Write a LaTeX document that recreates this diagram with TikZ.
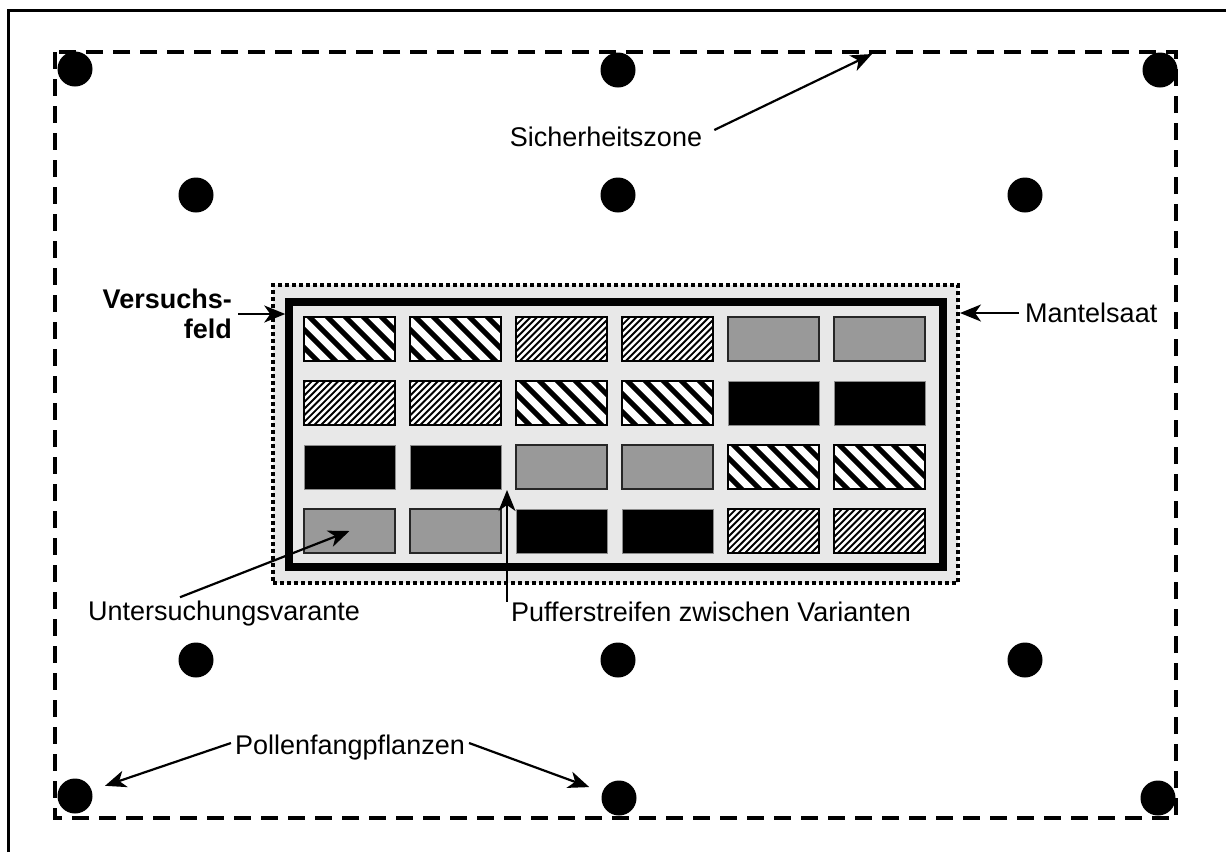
\documentclass[tikz,border=0pt]{standalone}
\usepackage{fontspec}
\setmainfont{Liberation Sans}
\usetikzlibrary{positioning,arrows.meta}
\definecolor{mantelgray}{RGB}{232,232,232}
\definecolor{cellgray}{RGB}{153,153,153}

\begin{document}
\begin{tikzpicture}[x=1pt, y=-1pt,
    frame/.style={line width=3pt},
    zone/.style={line width=4pt, dash pattern=on 17pt off 10pt},
    mantel/.style={draw, fill=mantelgray, line width=4pt, dash pattern=on 4pt off 3pt,
                   minimum width=685pt, minimum height=298pt, inner sep=0pt},
    feld/.style={draw, fill=mantelgray, line width=7.5pt,
                 minimum width=654pt, minimum height=265pt, inner sep=0pt},
    cell/.style={draw=black, line width=1.8pt, minimum width=91pt, minimum height=44pt, inner sep=0pt},
    wide/.style={cell, fill=white, path picture={
        \foreach \k in {-5,...,5}
          \draw[line width=5pt] ([xshift=\k*18pt]path picture bounding box.center)
            ++(-30,-30) -- ++(60,60);}},
    fine/.style={cell, fill=white, path picture={
        \foreach \k in {-11,...,11}
          \draw[line width=1.9pt] ([xshift=\k*6.6pt]path picture bounding box.center)
            ++(-30,30) -- ++(60,-60);}},
    grey/.style={cell, fill=cellgray, draw=black!85},
    dark/.style={cell, fill=black, draw=black!45, line width=1pt},
    plant/.style={circle, fill=black, minimum size=35pt, inner sep=0pt},
    arr/.style={-{Stealth[length=21pt,width=17pt,inset=6pt]}, line width=2.2pt},
    lbl/.style={font=\fontsize{27}{31}\selectfont, inner sep=2pt}
  ]
  \useasboundingbox (0,0) rectangle (1226,852);

  % ================= FRAME AND SAFETY ZONE =================
  \draw[frame] (8,852) -- (8,10) -- (1226,10);
  \draw[zone]  (55,52) rectangle (1176,818);
  \coordinate (zonetip) at (872,54);

  % ================= POLLEN TRAP PLANTS =================
  \node[plant] (p11) at (75,69)   {};
  \node[plant] (p12) at (618,70)  {};
  \node[plant] (p13) at (1160,70) {};
  \node[plant] (p21) at (196,195)  {};
  \node[plant] (p22) at (618,195)  {};
  \node[plant] (p23) at (1025,195) {};
  \node[plant] (p31) at (196,660)  {};
  \node[plant] (p32) at (618,660)  {};
  \node[plant] (p33) at (1025,660) {};
  \node[plant] (p41) at (75,796)   {};
  \node[plant] (p42) at (619,798)  {};
  \node[plant] (p43) at (1158,798) {};

  % ================= MANTEL AND TEST FIELD =================
  \node[mantel] (mantel) at (615.5,434) {};
  \node[feld]   (feld)   at (616,434.5) {};

  % plots, row by row
  \node[wide] (c11) at (349.5,339) {};
  \node[wide] (c12) at (455.5,339) {};
  \node[fine] (c13) at (561.5,339) {};
  \node[fine] (c14) at (667.5,339) {};
  \node[grey] (c15) at (773.5,339) {};
  \node[grey] (c16) at (879.5,339) {};

  \node[fine] (c21) at (349.5,403) {};
  \node[fine] (c22) at (455.5,403) {};
  \node[wide] (c23) at (561.5,403) {};
  \node[wide] (c24) at (667.5,403) {};
  \node[dark] (c25) at (773.5,403) {};
  \node[dark] (c26) at (879.5,403) {};

  \node[dark] (c31) at (349.5,467) {};
  \node[dark] (c32) at (455.5,467) {};
  \node[grey] (c33) at (561.5,467) {};
  \node[grey] (c34) at (667.5,467) {};
  \node[wide] (c35) at (773.5,467) {};
  \node[wide] (c36) at (879.5,467) {};

  \node[grey] (c41) at (349.5,531) {};
  \node[grey] (c42) at (455.5,531) {};
  \node[dark] (c43) at (561.5,531) {};
  \node[dark] (c44) at (667.5,531) {};
  \node[fine] (c45) at (773.5,531) {};
  \node[fine] (c46) at (879.5,531) {};
  \coordinate (puffertip) at (507,490);

  % ================= LABELS =================
  \node[lbl] (szone) at (606,137) {Sicherheitszone};
  \node[lbl, font=\fontsize{27}{30}\selectfont\bfseries, align=right, anchor=east] (vlabel)
    at (234,314) {Versuchs-\\feld};
  \node[lbl, anchor=west] (mlabel) at (1023,313) {Mantelsaat};
  \node[lbl, anchor=west] (ulabel) at (86,614) {Untersuchungsvarante};
  \node[lbl, anchor=west] (plabel) at (509,612) {Pufferstreifen zwischen Varianten};
  \node[lbl] (pollen) at (350,748) {Pollenfangpflanzen};

  % arrows
  \draw[arr] ([xshift=10pt,yshift=7pt]szone.east) -- (zonetip);
  \draw[arr] ([xshift=4pt]vlabel.east) -- (vlabel.east -| feld.west);
  \draw[arr] ([xshift=-4pt]mlabel.west) -- (mlabel.west -| mantel.east);
  \draw[arr] ([xshift=94pt,yshift=2pt]ulabel.north west) -- (c41.center);
  \draw[arr] ([yshift=-2pt]plabel.north west -| puffertip) -- (puffertip);
  \draw[arr, shorten >=14pt] ([xshift=-2pt,yshift=5pt]pollen.west) -- (p41);
  \draw[arr, shorten >=14pt] ([xshift=2pt,yshift=5pt]pollen.east) -- (p42);

\end{tikzpicture}
\end{document}
